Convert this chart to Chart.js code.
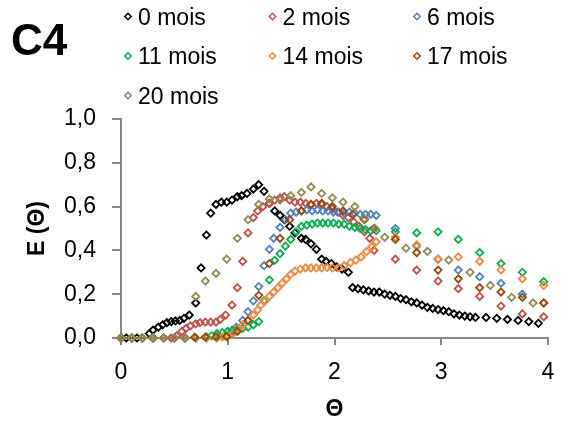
<!DOCTYPE html>
<html>
<head>
<meta charset="utf-8">
<script src="https://cdn.jsdelivr.net/npm/chart.js@4.4.1/dist/chart.umd.min.js"></script>
<style>
  html, body { margin: 0; padding: 0; background: #fff; }
</style>
</head>
<body>
<canvas id="rtdChart" width="580" height="428"></canvas>
<script>
const panelTitle = 'C4';
const seriesNames = ['0 mois', '2 mois', '6 mois', '11 mois', '14 mois', '17 mois', '20 mois'];
const seriesColors = ['#000000', '#C0504D', '#4F81BD', '#00B050', '#EE8A40', '#984807', '#948A54'];
const xTickLabels = ['0', '1', '2', '3', '4'];
const yTickLabels = ['0,0', '0,2', '0,4', '0,6', '0,8', '1,0'];

// 0 mois
const x0 = [0, 0.05, 0.1, 0.15, 0.2, 0.265, 0.3, 0.35, 0.39, 0.43, 0.47, 0.51, 0.55, 0.59, 0.64, 0.7, 0.75, 0.8, 0.84, 0.89, 0.94, 0.99, 1.04, 1.09, 1.13, 1.18, 1.24, 1.29, 1.34, 1.39, 1.44, 1.49, 1.53, 1.58, 1.63, 1.69, 1.73, 1.78, 1.83, 1.88, 1.92, 1.97, 2.02, 2.07, 2.13, 2.17, 2.22, 2.27, 2.32, 2.37, 2.42, 2.47, 2.52, 2.57, 2.62, 2.67, 2.72, 2.77, 2.82, 2.87, 2.92, 2.97, 3.02, 3.07, 3.12, 3.17, 3.22, 3.27, 3.32, 3.42, 3.52, 3.62, 3.72, 3.82, 3.91];
const y0 = [0, 0, 0, 0, 0, 0.02, 0.036, 0.05, 0.06, 0.07, 0.075, 0.078, 0.08, 0.09, 0.105, 0.16, 0.32, 0.47, 0.57, 0.61, 0.62, 0.62, 0.63, 0.645, 0.65, 0.66, 0.68, 0.7, 0.67, 0.615, 0.58, 0.56, 0.54, 0.51, 0.48, 0.455, 0.45, 0.43, 0.405, 0.36, 0.35, 0.34, 0.325, 0.315, 0.3, 0.23, 0.225, 0.22, 0.215, 0.21, 0.21, 0.2, 0.195, 0.19, 0.18, 0.175, 0.165, 0.16, 0.15, 0.14, 0.135, 0.13, 0.125, 0.12, 0.11, 0.105, 0.1, 0.097, 0.094, 0.094, 0.09, 0.085, 0.08, 0.075, 0.067];

// 2 mois
const x2 = [0, 0.1, 0.2, 0.3, 0.4, 0.47, 0.52, 0.57, 0.61, 0.65, 0.7, 0.74, 0.79, 0.84, 0.89, 0.93, 0.98, 1.04, 1.09, 1.14, 1.19, 1.24, 1.28, 1.33, 1.39, 1.44, 1.49, 1.53, 1.58, 1.63, 1.68, 1.73, 1.78, 1.83, 1.88, 1.93, 1.98, 2.03, 2.08, 2.13, 2.18, 2.23, 2.28, 2.33, 2.37, 2.57, 2.77, 2.97, 3.16, 3.36, 3.56, 3.76, 3.96];
const y2 = [0, 0, 0, 0, 0, 0, 0.01, 0.03, 0.044, 0.055, 0.064, 0.07, 0.073, 0.073, 0.073, 0.085, 0.105, 0.15, 0.23, 0.35, 0.48, 0.55, 0.58, 0.6, 0.615, 0.63, 0.64, 0.645, 0.63, 0.62, 0.62, 0.615, 0.61, 0.615, 0.61, 0.6, 0.59, 0.575, 0.56, 0.55, 0.53, 0.51, 0.485, 0.455, 0.4, 0.36, 0.31, 0.26, 0.225, 0.19, 0.146, 0.11, 0.097];

// 6 mois
const x6 = [0, 0.1, 0.2, 0.3, 0.4, 0.5, 0.6, 0.7, 0.8, 0.9, 0.99, 1.04, 1.08, 1.14, 1.19, 1.24, 1.29, 1.34, 1.39, 1.43, 1.49, 1.54, 1.59, 1.64, 1.69, 1.74, 1.79, 1.84, 1.89, 1.94, 1.99, 2.04, 2.09, 2.14, 2.19, 2.24, 2.29, 2.34, 2.39, 2.57, 2.77, 2.97, 3.16, 3.36, 3.56, 3.76, 3.96];
const y6 = [0, 0, 0, 0, 0, 0, 0, 0, 0, 0.005, 0.01, 0.025, 0.05, 0.08, 0.12, 0.17, 0.235, 0.33, 0.405, 0.455, 0.505, 0.54, 0.57, 0.575, 0.58, 0.585, 0.58, 0.585, 0.58, 0.58, 0.575, 0.575, 0.57, 0.575, 0.57, 0.565, 0.565, 0.565, 0.56, 0.5, 0.42, 0.36, 0.31, 0.28, 0.25, 0.2, 0.16];

// 11 mois
const x11 = [0, 0.1, 0.2, 0.3, 0.4, 0.5, 0.6, 0.7, 0.8, 0.85, 0.9, 0.95, 1.0, 1.04, 1.09, 1.14, 1.19, 1.24, 1.29, 1.34, 1.39, 1.44, 1.49, 1.54, 1.59, 1.64, 1.69, 1.74, 1.79, 1.84, 1.89, 1.94, 1.99, 2.04, 2.09, 2.14, 2.19, 2.24, 2.29, 2.34, 2.39, 2.57, 2.77, 2.97, 3.16, 3.36, 3.56, 3.76, 3.96];
const y11 = [0, 0, 0, 0, 0, 0, 0, 0, 0.005, 0.01, 0.02, 0.025, 0.03, 0.035, 0.04, 0.044, 0.05, 0.06, 0.075, 0.17, 0.265, 0.355, 0.385, 0.42, 0.45, 0.485, 0.51, 0.515, 0.52, 0.525, 0.525, 0.525, 0.525, 0.52, 0.52, 0.51, 0.505, 0.5, 0.495, 0.49, 0.49, 0.485, 0.48, 0.485, 0.45, 0.39, 0.34, 0.3, 0.257];

// 14 mois
const x14 = [0, 0.1, 0.2, 0.3, 0.4, 0.5, 0.6, 0.7, 0.8, 0.9, 0.95, 1.0, 1.05, 1.1, 1.14, 1.19, 1.24, 1.28, 1.31, 1.35, 1.39, 1.43, 1.47, 1.51, 1.55, 1.59, 1.63, 1.68, 1.73, 1.78, 1.83, 1.88, 1.93, 1.98, 2.04, 2.09, 2.15, 2.2, 2.25, 2.3, 2.35, 2.39, 2.57, 2.77, 2.97, 3.16, 3.36, 3.56, 3.76, 3.96];
const y14 = [0, 0, 0, 0, 0, 0, 0, 0, 0, 0, 0.005, 0.01, 0.02, 0.037, 0.06, 0.08, 0.105, 0.128, 0.15, 0.17, 0.19, 0.21, 0.23, 0.25, 0.27, 0.29, 0.305, 0.315, 0.32, 0.32, 0.32, 0.32, 0.322, 0.32, 0.32, 0.33, 0.344, 0.356, 0.37, 0.394, 0.417, 0.44, 0.46, 0.425, 0.36, 0.37, 0.35, 0.31, 0.27, 0.24];

// 17 mois
const x17 = [0, 0.1, 0.2, 0.3, 0.4, 0.5, 0.6, 0.69, 0.79, 0.89, 0.99, 1.09, 1.19, 1.29, 1.39, 1.49, 1.58, 1.69, 1.78, 1.88, 1.98, 2.08, 2.17, 2.28, 2.37, 2.57, 2.77, 2.97, 3.16, 3.36, 3.56, 3.76, 3.96];
const y17 = [0, 0, 0, 0, 0, 0, 0, 0.003, 0.004, 0.005, 0.006, 0.03, 0.08, 0.195, 0.34, 0.455, 0.54, 0.58, 0.61, 0.615, 0.6, 0.58, 0.565, 0.54, 0.5, 0.45, 0.39, 0.31, 0.27, 0.23, 0.21, 0.186, 0.16];

// 20 mois
const x20 = [0, 0.1, 0.2, 0.3, 0.4, 0.5, 0.6, 0.7, 0.79, 0.89, 0.99, 1.09, 1.19, 1.29, 1.39, 1.49, 1.59, 1.69, 1.78, 1.88, 1.98, 2.08, 2.19, 2.28, 2.38, 2.47, 2.67, 2.87, 3.07, 3.27, 3.46, 3.66, 3.86];
const y20 = [0, 0, 0, 0, 0, 0, 0, 0.19, 0.26, 0.295, 0.36, 0.455, 0.54, 0.61, 0.635, 0.63, 0.65, 0.665, 0.69, 0.66, 0.64, 0.62, 0.6, 0.545, 0.5, 0.46, 0.41, 0.395, 0.356, 0.3, 0.24, 0.186, 0.16];

const seriesX = [x0, x2, x6, x11, x14, x17, x20];
const seriesY = [y0, y2, y6, y11, y14, y17, y20];

const FONT = '"Liberation Sans", Arial, sans-serif';
const AXIS_GREY = '#868686';

const datasets = seriesNames.map((name, i) => ({
  label: name,
  data: seriesX[i].map((x, k) => ({ x: x, y: seriesY[i][k] })),
  showLine: false,
  pointStyle: 'rectRot',
  pointRadius: 3.6,
  pointHoverRadius: 3.6,
  pointBorderWidth: 1.8,
  pointBorderColor: seriesColors[i],
  pointBackgroundColor: 'rgba(255,255,255,0)',
  borderColor: seriesColors[i],
  backgroundColor: 'rgba(255,255,255,0)',
  clip: false,
  order: seriesNames.length - i
}));

// title and legend drawn in three columns like the original
const panelLegend = {
  id: 'panelLegend',
  afterDraw(chart) {
    const c = chart.ctx;
    c.save();
    c.fillStyle = '#000';
    c.font = 'bold 44px ' + FONT;
    c.textBaseline = 'alphabetic';
    c.textAlign = 'left';
    c.fillText(panelTitle, 11, 55);

    c.font = '23px ' + FONT;
    c.textBaseline = 'middle';
    seriesNames.forEach((name, i) => {
      const col = i % 3;
      const row = Math.floor(i / 3);
      const mx = 128 + col * 144.5;
      const my = 17.5 + row * 39.5;
      c.beginPath();
      c.moveTo(mx, my - 4.2);
      c.lineTo(mx + 3.2, my - 1);
      c.lineTo(mx, my + 2.2);
      c.lineTo(mx - 3.2, my - 1);
      c.closePath();
      c.strokeStyle = seriesColors[i];
      c.lineWidth = 1.5;
      c.stroke();
      c.fillStyle = '#000';
      c.fillText(name, mx + 10, my + 1);
    });
    c.restore();
  }
};

const config = {
  type: 'scatter',
  data: { datasets: datasets },
  options: {
    responsive: false,
    animation: false,
    devicePixelRatio: 1,
    layout: { padding: { top: 119, right: 32, bottom: 0, left: 0 } },
    plugins: {
      legend: { display: false },
      tooltip: { enabled: false }
    },
    scales: {
      x: {
        type: 'linear',
        min: 0,
        max: 4,
        afterFit: (scale) => { scale.height = 90; },
        afterBuildTicks: (scale) => { scale.ticks = xTickLabels.map((t, i) => ({ value: i })); },
        ticks: {
          callback: (v, i) => xTickLabels[i],
          color: '#000',
          padding: 14,
          maxRotation: 0,
          font: { family: FONT, size: 23 }
        },
        grid: { drawOnChartArea: false, drawTicks: true, tickLength: 7, color: AXIS_GREY, lineWidth: 2 },
        border: { color: AXIS_GREY, width: 2 },
        title: {
          display: true,
          text: 'Θ',
          color: '#000',
          padding: { top: 0, bottom: 5 },
          font: { family: FONT, size: 23, weight: 'bold' }
        }
      },
      y: {
        type: 'linear',
        min: 0,
        max: 1,
        afterFit: (scale) => { scale.width = 121; },
        afterBuildTicks: (scale) => { scale.ticks = yTickLabels.map((t, i) => ({ value: i * 0.2 })); },
        ticks: {
          callback: (v, i) => yTickLabels[i],
          color: '#000',
          padding: 16,
          font: { family: FONT, size: 23 }
        },
        grid: { drawOnChartArea: false, drawTicks: true, tickLength: 9, color: AXIS_GREY, lineWidth: 2 },
        border: { color: AXIS_GREY, width: 2 },
        title: {
          display: true,
          text: 'E (Θ)',
          color: '#000',
          padding: { top: 24, bottom: 0 },
          font: { family: FONT, size: 23, weight: 'bold' }
        }
      }
    }
  },
  plugins: [panelLegend]
};

const rtdChart = new Chart(document.getElementById('rtdChart'), config);
</script>
</body>
</html>
